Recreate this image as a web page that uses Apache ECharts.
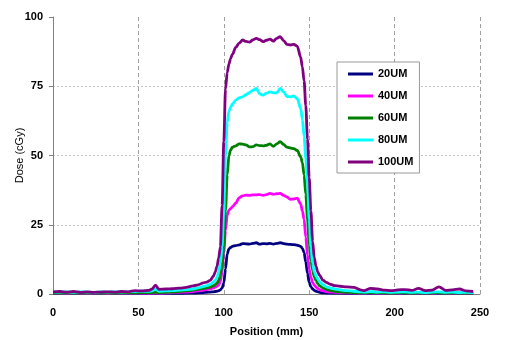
<!DOCTYPE html>
<html>
<head>
<meta charset="utf-8">
<script src="https://cdn.jsdelivr.net/npm/echarts@6/dist/echarts.min.js"></script>
<style>
html,body{margin:0;padding:0;background:#fff;}
#chart{width:507px;height:340px;}
</style>
</head>
<body>
<div id="chart"></div>
<script>
const positions = [
  0,4,8,12,16,20,24,28,32,36,40,44,48,52,56,58,60,62,66,70,74,78,82,85,88,
  90,92,94,95,96,97,98,99,100,101,102,103,104,105,
  107,109,111,113,115,117,119,121,123,125,127,129,131,133,135,137,139,141,143,145,
  146,147,148,149,150,151,152,153,154,155,156,158,160,162,165,168,
  172,176,180,182,186,190,194,198,202,206,210,214,218,222,226,230,234,238,242,246
];
const dose20 = [
  0.2,0.2,0.2,0.2,0.2,0.2,0.2,0.2,0.2,0.2,0.2,0.2,0.2,0.2,0.2,0.2,0.2,0.2,0.2,0.2,0.2,0.3,0.3,0.4,0.5,
  0.6,0.7,0.8,0.9,1.0,1.2,1.5,2.2,4,9,14.5,16.3,16.8,17.2,
  17.5,17.7,18.2,18.1,18,18.3,18.5,18,18.2,18.1,18.3,18,18.3,18.5,18.2,18,17.9,17.8,17.6,17.2,
  16.5,15,11.5,7.5,4.2,2.6,1.8,1.3,1.0,0.8,0.6,0.4,0.35,0.3,0.3,0.3,
  0.2,0.2,0.2,0.2,0.2,0.2,0.2,0.2,0.2,0.2,0.2,0.2,0.2,0.2,0.2,0.2,0.2,0.2,0.2,0.2
];
const dose40 = [
  0.3,0.3,0.2,0.3,0.3,0.2,0.3,0.3,0.2,0.3,0.3,0.3,0.3,0.3,0.3,0.3,0.4,0.3,0.4,0.5,0.6,0.7,0.9,1.1,1.4,
  1.6,1.9,2.2,2.5,2.8,3.3,4.5,8,15,23,28.5,30.3,30.8,31.5,
  32.8,34.8,35.4,35.7,35.6,35.8,35.8,35.9,35.6,35.9,36.3,36.0,36.2,36.3,35.6,35,34.2,34.3,34.6,32.5,
  30,27,20.5,14,9,6,4.2,3.2,2.5,2.0,1.6,1.2,0.9,0.7,0.6,0.5,
  0.4,0.4,0.3,0.3,0.4,0.3,0.3,0.3,0.3,0.4,0.3,0.3,0.3,0.3,0.4,0.3,0.3,0.3,0.3,0.3
];
const dose60 = [
  0.4,0.3,0.4,0.3,0.4,0.3,0.4,0.3,0.4,0.3,0.4,0.4,0.4,0.5,0.5,0.5,0.7,0.5,0.6,0.7,0.9,1.1,1.4,1.7,2.0,
  2.2,2.5,3.0,3.4,3.9,5,7,10.5,17,30,43,50,52,53,
  53.5,54.2,54.1,53.8,53.1,53.2,53.8,53.6,53.5,53.7,54.2,53.3,54.2,55,54,53,52.7,52.5,51.8,49.5,
  47.5,43,36,27,18,12,8.5,6.2,4.8,3.8,3.0,2.2,1.7,1.3,1.0,0.8,
  0.6,0.5,0.4,0.4,0.5,0.4,0.4,0.3,0.4,0.4,0.3,0.4,0.3,0.4,0.4,0.3,0.4,0.3,0.3,0.3
];
const dose80 = [
  0.8,0.7,0.8,0.6,0.8,0.7,0.6,0.8,0.7,0.8,0.7,0.8,0.9,1.0,1.0,1.1,1.8,1.0,1.1,1.2,1.4,1.6,1.8,2.2,2.7,
  3.0,3.5,4.3,5,6,8,11,17,30,50,62,66,67.5,68.5,
  70,70.8,71.2,72,72.7,73.5,74.2,72.3,71.8,72.5,73,72.6,72.6,74.2,73,71.3,71.2,71.5,70.5,67,
  63,57,49,40,27,17,11,8,6.5,5.4,4.5,3.4,2.6,2.2,1.8,1.5,
  1.2,1.0,0.8,0.7,0.9,0.7,0.8,0.6,0.7,0.8,0.6,0.7,0.5,0.7,0.8,0.6,0.7,0.5,0.6,0.5
];
const dose100 = [
  0.8,0.9,0.7,0.9,0.6,0.8,0.6,0.7,0.8,0.7,0.9,0.8,1.2,1.1,1.3,1.8,3.2,1.7,1.8,1.9,2.1,2.4,2.9,3.3,4.0,
  4.3,4.9,6.5,8,10,13,17,32,55,74,80,83,85,86.5,
  89,90.6,91.7,91.2,90.9,91.7,92.3,91.8,91.1,91.6,92,91.3,92.3,92.9,91.5,90.1,89.9,90.1,89.5,85.5,
  82,77,68,56,42,30,19,13,10,8,6.8,5,4.2,3.6,3.0,2.8,
  2.6,2.4,1.5,1.2,2.0,1.8,1.4,1.2,1.5,1.6,1.3,2.0,1.2,1.4,2.6,1.3,1.5,1.8,1.1,0.9
];
const seriesNames = ['20UM','40UM','60UM','80UM','100UM'];
const seriesColors = ['#000080','#FF00FF','#008000','#00FFFF','#800080'];
const seriesValues = [dose20, dose40, dose60, dose80, dose100];
const xTicks = [0, 50, 100, 150, 200, 250];
const yTicks = [0, 25, 50, 75, 100];

const chart = echarts.init(document.getElementById('chart'), null, {renderer:'canvas'});
const FONT = '"Liberation Sans", Arial, sans-serif';
chart.setOption({
  animation: false,
  backgroundColor: '#fff',
  grid: {left: 53, right: 27, top: 17, bottom: 46, containLabel: false, outerBoundsMode: 'none'},
  legend: {
    orient: 'vertical',
    left: 337, top: 62,
    padding: [5, 6, 4, 11],
    itemGap: 8,
    itemWidth: 25, itemHeight: 3,
    icon: 'rect',
    backgroundColor: '#fff',
    borderColor: '#999', borderWidth: 1,
    textStyle: {fontFamily: FONT, fontWeight: 'bold', fontSize: 11, color: '#000', lineHeight: 14},
    data: seriesNames
  },
  xAxis: {
    type: 'value', min: xTicks[0], max: xTicks[xTicks.length-1], interval: 50,
    name: 'Position (mm)', nameLocation: 'middle', nameGap: 32, nameMoveOverlap: false,
    nameTextStyle: {fontFamily: FONT, fontWeight: 'bold', fontSize: 11, color: '#000'},
    axisLine: {show: true, lineStyle: {color: '#808080', width: 1}},
    axisTick: {show: false},
    axisLabel: {fontFamily: FONT, fontWeight: 'bold', fontSize: 11, color: '#000', margin: 13},
    splitLine: {show: true, lineStyle: {color: '#a0a0a0', type: [4, 3], width: 1}}
  },
  yAxis: {
    type: 'value', min: yTicks[0], max: yTicks[yTicks.length-1], interval: 25,
    name: 'Dose (cGy)', nameLocation: 'middle', nameGap: 28, nameMoveOverlap: false,
    nameTextStyle: {fontFamily: FONT, fontSize: 11, color: '#000'},
    axisLine: {show: true, lineStyle: {color: '#808080', width: 1}},
    axisTick: {show: true, length: 4, inside: false, lineStyle: {color: '#808080'}},
    axisLabel: {fontFamily: FONT, fontWeight: 'bold', fontSize: 11, color: '#000', margin: 10},
    splitLine: {show: true, lineStyle: {color: ['rgba(0,0,0,0)', '#c4c4c4', '#c4c4c4', '#c4c4c4', 'rgba(0,0,0,0)'], type: [2, 2], width: 1}}
  },
  series: seriesNames.map((name, k) => ({
    name: name,
    type: 'line',
    showSymbol: false,
    smooth: 0.3,
    smoothMonotone: 'x',
    color: seriesColors[k],
    lineStyle: {width: 2.8, color: seriesColors[k]},
    data: positions.map((p, i) => [p, seriesValues[k][i]])
  }))
});
</script>
</body>
</html>
